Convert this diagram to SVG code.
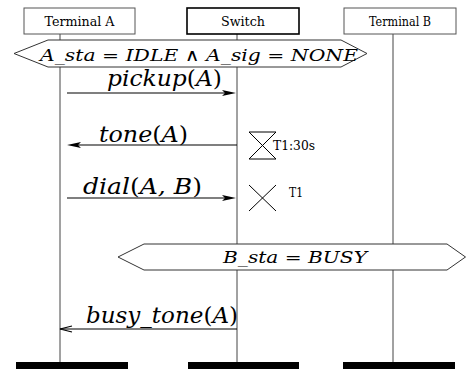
<svg xmlns="http://www.w3.org/2000/svg" width="466" height="369" viewBox="0 0 466 369">
  <style>
    .head { fill: #fff; stroke: #555; stroke-width: 1; }
    .head-strong { fill: #fff; stroke: #000; stroke-width: 1.6; }
    .label { font-family: 'DejaVu Serif', serif; font-size: 13px; fill: #000; }
    .life { stroke: #444; stroke-width: 1; }
    .foot { fill: #000; }
    .msg { stroke: #000; stroke-width: 1.1; fill: none; }
    .math { font-family: 'DejaVu Serif', serif; font-style: italic; fill: #000; }
    .up { font-style: normal; }
    .cond { fill: #fff; stroke: #333; stroke-width: 1; }
    .timer { stroke: #000; stroke-width: 1; fill: none; }
  </style>

  <!-- lifelines -->
  <g id="lifelines">
    <line class="life" x1="60" y1="34" x2="60" y2="362"/>
    <line class="life" x1="237" y1="34" x2="237" y2="362"/>
    <line class="life" x1="393" y1="34" x2="393" y2="362"/>
  </g>

  <!-- instance heads and feet -->
  <g id="terminal-a">
    <rect class="head" x="24" y="8" width="111" height="26"/>
    <text class="label" x="79.5" y="26" text-anchor="middle" textLength="70" lengthAdjust="spacingAndGlyphs">Terminal A</text>
    <rect class="foot" x="16" y="362" width="112" height="7"/>
  </g>
  <g id="switch">
    <rect class="head-strong" x="187" y="8" width="112" height="26"/>
    <text class="label" x="243" y="26" text-anchor="middle" textLength="44" lengthAdjust="spacingAndGlyphs">Switch</text>
    <rect class="foot" x="188" y="362" width="111" height="7"/>
  </g>
  <g id="terminal-b">
    <rect class="head" x="344" y="8" width="112" height="26"/>
    <text class="label" x="400" y="26" text-anchor="middle" textLength="62" lengthAdjust="spacingAndGlyphs">Terminal B</text>
    <rect class="foot" x="343" y="362" width="112" height="7"/>
  </g>

  <!-- conditions -->
  <g id="cond-idle">
    <polygon class="cond" points="14,53.5 48,40 341,40 367,53.5 341,67 48,67"/>
    <text class="math" x="40" y="60.5" font-size="17" textLength="318" lengthAdjust="spacingAndGlyphs">A_sta <tspan class="up">= </tspan>IDLE <tspan class="up">∧ </tspan>A_sig <tspan class="up">= </tspan>NONE</text>
  </g>
  <g id="cond-busy">
    <polygon class="cond" points="118,257 144,244 447,244 465.5,257 447,270 144,270"/>
    <text class="math" x="223" y="263" font-size="17" textLength="144" lengthAdjust="spacingAndGlyphs">B_sta <tspan class="up">= </tspan>BUSY</text>
  </g>

  <!-- timers -->
  <g id="timer-start">
    <path class="timer" d="M249,132 H276 L249,159 H276 Z"/>
    <text class="label" x="273" y="150" textLength="42" lengthAdjust="spacingAndGlyphs">T1:30s</text>
  </g>
  <g id="timer-stop">
    <path class="timer" d="M249,185 L276,211 M276,185 L249,211"/>
    <text class="label" x="289" y="197" textLength="14" lengthAdjust="spacingAndGlyphs">T1</text>
  </g>

  <!-- messages -->
  <g id="messages">
    <line class="msg" x1="67" y1="93" x2="230" y2="93"/>
    <path d="M236,93 L222,90 L225,93 L222,96 Z" fill="#000"/>
    <text class="math" x="107" y="86" font-size="22" textLength="115" lengthAdjust="spacingAndGlyphs">pickup<tspan class="up">(</tspan>A<tspan class="up">)</tspan></text>

    <line class="msg" x1="237" y1="145" x2="73" y2="145"/>
    <path d="M67,145 L81,142 L78,145 L81,148 Z" fill="#000"/>
    <text class="math" x="99" y="142" font-size="22" textLength="89" lengthAdjust="spacingAndGlyphs">tone<tspan class="up">(</tspan>A<tspan class="up">)</tspan></text>

    <line class="msg" x1="67" y1="198" x2="230" y2="198"/>
    <path d="M236,198 L222,195 L225,198 L222,201 Z" fill="#000"/>
    <text class="math" x="83" y="194" font-size="22" textLength="119" lengthAdjust="spacingAndGlyphs">dial<tspan class="up">(</tspan>A, B<tspan class="up">)</tspan></text>

    <line class="msg" x1="237" y1="329" x2="60" y2="329" stroke-width="0.9"/>
    <polyline class="msg" points="72,326 60,329 72,332" stroke-width="0.9"/>
    <text class="math" x="86" y="323" font-size="22" textLength="152" lengthAdjust="spacingAndGlyphs">busy_tone<tspan class="up">(</tspan>A<tspan class="up">)</tspan></text>
  </g>
</svg>
